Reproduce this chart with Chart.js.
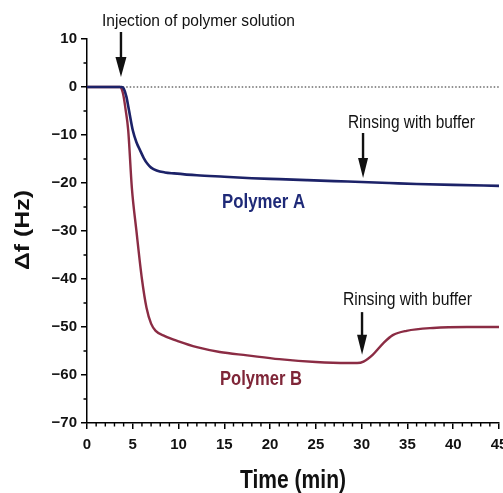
<!DOCTYPE html>
<html>
<head>
<meta charset="utf-8">
<script src="https://cdn.jsdelivr.net/npm/chart.js@4.4.1/dist/chart.umd.min.js"></script>
<style>
html,body{margin:0;padding:0;background:#fff;overflow:hidden;}
canvas{display:block;}
</style>
</head>
<body>
<canvas id="c" width="515" height="493"></canvas>
<script>
// ---- data ----
const timeA = [0, 3.8, 4.0, 4.3, 4.6, 5.0, 5.4, 5.8, 6.2, 6.6, 7.0, 7.6, 8.5, 9.5, 12, 15, 18, 21, 24, 27, 30, 33, 36, 40, 45];
const polymerA = [0, 0, -0.3, -2, -5, -9, -11.5, -13.2, -14.8, -16, -16.8, -17.4, -17.8, -18.0, -18.4, -18.7, -19.0, -19.2, -19.4, -19.6, -19.8, -20.0, -20.2, -20.4, -20.6];
const timeB = [0, 3.6, 3.8, 4.0, 4.2, 4.5, 4.9, 5.4, 6.0, 6.5, 7.0, 7.5, 8.5, 10, 12, 14.5, 17.5, 21, 25, 28.5, 29.5, 30.2, 31.2, 32.4, 33.4, 34.9, 37.8, 41.5, 45];
const polymerB = [0, 0, -0.5, -2, -4.5, -9, -21, -30, -40, -46, -49.3, -50.8, -51.9, -53, -54.2, -55.2, -55.9, -56.7, -57.3, -57.5, -57.5, -57.2, -55.8, -53.3, -51.7, -50.8, -50.2, -50, -50];
const baselineTime = [3.9, 45];
const baselineValue = [0, 0];
const xTicks = [0, 5, 10, 15, 20, 25, 30, 35, 40, 45];
const xMinorTicks = [1,2,3,4,6,7,8,9,11,12,13,14,16,17,18,19,21,22,23,24,26,27,28,29,31,32,33,34,36,37,38,39,41,42,43,44];
const yTicks = [10, 0, -10, -20, -30, -40, -50, -60, -70];
const yMinorTicks = [5, -5, -15, -25, -35, -45, -55, -65];

const toPts = (xs, ys) => xs.map((x, i) => ({x: x, y: ys[i]}));
const FONT = "'Liberation Sans', Arial, Helvetica, sans-serif";

function fitText(ctx, text, x, y, font, width, color, rot) {
  ctx.save();
  ctx.font = font;
  ctx.fillStyle = color;
  ctx.textBaseline = 'alphabetic';
  ctx.textAlign = 'left';
  const w = ctx.measureText(text).width;
  ctx.translate(x, y);
  if (rot) ctx.rotate(rot);
  ctx.scale(width / w, 1);
  ctx.fillText(text, 0, 0);
  ctx.restore();
}

function arrow(ctx, x, y0, tip, headLen, headW) {
  ctx.save();
  ctx.strokeStyle = '#111';
  ctx.fillStyle = '#111';
  ctx.lineWidth = 2.4;
  ctx.beginPath();
  ctx.moveTo(x, y0);
  ctx.lineTo(x, tip - headLen + 2);
  ctx.stroke();
  ctx.beginPath();
  ctx.moveTo(x - headW / 2, tip - headLen);
  ctx.lineTo(x + headW / 2, tip - headLen);
  ctx.lineTo(x, tip);
  ctx.closePath();
  ctx.fill();
  ctx.restore();
}

const annotate = {
  id: 'annotate',
  afterDraw(chart) {
    const ctx = chart.ctx;
    const xs = chart.scales.x, ys = chart.scales.y;
    const px = v => xs.getPixelForValue(v);
    const py = v => ys.getPixelForValue(v);
    // minor ticks
    ctx.save();
    ctx.strokeStyle = '#000';
    ctx.lineWidth = 1.4;
    ctx.beginPath();
    xMinorTicks.forEach(v => { const p = px(v); ctx.moveTo(p, xs.top); ctx.lineTo(p, xs.top + 3.5); });
    yMinorTicks.forEach(v => { const p = py(v); ctx.moveTo(ys.right, p); ctx.lineTo(ys.right - 3.5, p); });
    ctx.stroke();
    ctx.restore();

    // arrows
    arrow(ctx, px(3.71), py(11.46), py(2.08), 20, 11);
    arrow(ctx, px(30.15), py(-9.58), py(-18.96), 20, 10);
    arrow(ctx, px(30.04), py(-46.9), py(-55.8), 20, 10);

    // annotation texts
    fitText(ctx, 'Injection of polymer solution', px(1.64), py(12.8), '17px ' + FONT, 193, '#111');
    fitText(ctx, 'Rinsing with buffer', px(28.5), py(-8.54), '18px ' + FONT, 127, '#111');
    fitText(ctx, 'Rinsing with buffer', px(27.96), py(-45.5), '18px ' + FONT, 129, '#111');
    fitText(ctx, 'Polymer A', px(14.75), py(-25.2), 'bold 20px ' + FONT, 83, '#1f2a78');
    fitText(ctx, 'Polymer B', px(14.53), py(-62.1), 'bold 20px ' + FONT, 82, '#7f2638');

    // axis titles
    const cx = (chart.chartArea.left + chart.chartArea.right) / 2;
    fitText(ctx, 'Time (min)', cx - 53, 488, 'bold 26px ' + FONT, 106, '#111');
    fitText(ctx, 'Δf (Hz)', 29, 270, 'bold 21px ' + FONT, 80, '#111', -Math.PI / 2);
  }
};

new Chart(document.getElementById('c'), {
  type: 'line',
  data: {
    datasets: [
      { label: 'Polymer A', data: toPts(timeA, polymerA), borderColor: '#1c2268', borderWidth: 2.6,
        pointRadius: 0, cubicInterpolationMode: 'monotone', fill: false },
      { label: 'Polymer B', data: toPts(timeB, polymerB), borderColor: '#8b2c44', borderWidth: 2.4,
        pointRadius: 0, cubicInterpolationMode: 'monotone', fill: false },
      { label: 'baseline', data: toPts(baselineTime, baselineValue), borderColor: '#222', borderWidth: 1.2,
        borderDash: [1.5, 2], pointRadius: 0, fill: false }
    ]
  },
  options: {
    responsive: false,
    devicePixelRatio: 1,
    animation: false,
    layout: { padding: { top: 39, right: 16, left: 0, bottom: 0 } },
    plugins: { legend: { display: false }, tooltip: { enabled: false }, title: { display: false } },
    scales: {
      x: {
        type: 'linear', min: 0, max: 45,
        afterFit: s => { s.height = 70; },
        afterBuildTicks: s => { s.ticks = xTicks.map(v => ({ value: v })); },
        ticks: { font: { family: FONT, size: 15, weight: 'bold' }, color: '#111', padding: 7, maxRotation: 0,
                 callback: v => String(v) },
        grid: { drawOnChartArea: false, drawTicks: true, tickLength: 6, color: '#000', lineWidth: 1.5 },
        border: { display: true, color: '#000', width: 1.5 }
      },
      y: {
        type: 'linear', min: -70, max: 10,
        afterFit: s => { s.width = 87; },
        afterBuildTicks: s => { s.ticks = yTicks.map(v => ({ value: v })); },
        ticks: { font: { family: FONT, size: 15, weight: 'bold' }, color: '#111', padding: 4,
                 callback: v => (v < 0 ? '\u2212' + Math.abs(v) : String(v)) },
        grid: { drawOnChartArea: false, drawTicks: true, tickLength: 6, color: '#000', lineWidth: 1.5 },
        border: { display: true, color: '#000', width: 1.5 }
      }
    }
  },
  plugins: [annotate]
});
</script>
</body>
</html>
